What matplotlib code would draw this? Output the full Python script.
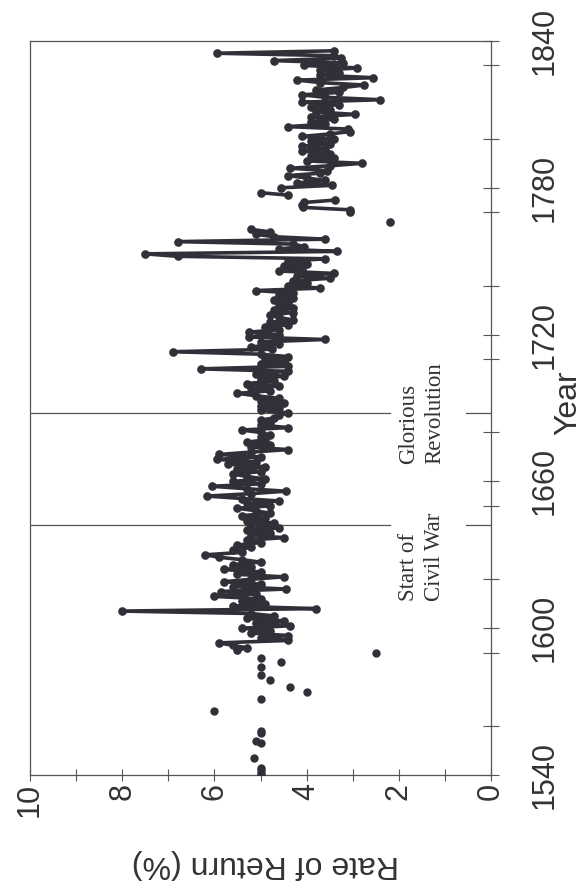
import numpy as np
import matplotlib.pyplot as plt
from matplotlib.ticker import MultipleLocator

nan = np.nan

# isolated early observations (markers only)
early_years = [1540, 1541, 1542, 1543, 1547, 1553, 1554, 1557, 1558, 1566,
               1571, 1574, 1576, 1579, 1581, 1584, 1586, 1588, 1590]
early_rates = [5.0, 5.0, 5.0, 5.0, 5.15, 5.0, 5.1, 5.0, 5.0, 6.0,
               5.0, 4.0, 4.35, 4.8, 5.0, 5.0, 4.55, 5.0, 2.5]

# yearly series 1591-1836, nan = no observation
main_start = 1591
main_rates = (
    [5.5, 5.3, 5.6, 5.9, 4.4, 5.0, 4.4, 5.2, 4.8, 5.4] +        # 1591-1600
    [4.35, 5.1, 4.5, 5.3, 4.7, 5.2, 8.0, 3.8, 5.6, 4.9] +       # 1601-1610
    [5.4, 5.0, 6.0, 5.1, 5.85, 4.45, 5.6, 5.0, 5.8, 5.2] +      # 1611-1620
    [4.5, 5.5, 5.0, 5.8, 5.2, 5.6, 5.0, 5.4, 5.9, 6.2] +        # 1621-1630
    [5.4, 5.6, 5.2, 5.5, 5.0, 5.3, 4.5, 5.2, 4.8, 5.3] +        # 1631-1640
    [4.6, 5.2, 4.7, 5.3, 4.9, 5.4, 4.8, 5.1, 5.5, 4.8] +        # 1641-1650
    [5.3, 4.6, 5.4, 6.15, 5.2, 4.45, 5.3, 6.05, 5.0, 5.6] +     # 1651-1660
    [4.9, 5.3, 5.6, 5.0, 5.5, 4.9, 5.7, 5.1, 5.95, 5.0] +       # 1661-1670
    [5.9, 5.2, 4.4, 5.2, 4.8, 5.3, 4.9, 5.0, 4.8, 5.0] +        # 1671-1680
    [5.4, 4.4, 5.0, 4.8, 5.0, 4.7, 4.6, 4.4, 5.0, 4.6] +        # 1681-1690
    [5.0, 4.5, 5.0, 4.6, 5.1, 5.5, 4.8, 5.2, 4.6, 5.3] +        # 1691-1700
    [4.7, 5.0, 4.5, 5.1, 4.4, 6.3, 4.4, 5.0, 4.5, 4.9] +        # 1701-1710
    [4.4, 5.0, 6.9, 4.75, 5.2, 4.6, 5.0, 3.6, 5.25, 4.6] +      # 1711-1720
    [5.25, 4.6, 4.9, 4.4, 4.8, 4.3, 4.6, 4.8, 4.3, 4.7] +       # 1721-1730
    [4.3, 4.6, 4.4, 4.7, 4.3, 4.6, 4.3, 5.1, 3.7, 4.4] +        # 1731-1740
    [4.0, 4.3, 3.5, 4.2, 3.4, 4.6, 4.1, 4.5, 4.0, 4.4] +        # 1741-1750
    [3.6, 6.8, 7.5, 3.35, 4.6, 4.05, 4.3, 6.8, 3.6, 4.7] +      # 1751-1760
    [5.1, 4.8, 5.2, nan, nan, 2.2, nan, nan, nan, 3.05] +       # 1761-1770
    [3.05, 4.08, 4.1, 4.05, 3.38, nan, 4.4, 5.0, nan, 4.55] +   # 1771-1780
    [3.45, 4.2, 3.6, 4.0, 4.4, 3.7, 3.55, 4.35, 3.5, 2.8] +     # 1781-1790
    [4.0, 3.4, 3.9, 3.5, 4.1, 3.6, 4.1, 3.5, 3.9, 3.4] +        # 1791-1800
    [4.1, 3.5, 3.05, 3.1, 4.4, 3.6, 3.9, 3.4, 3.9, 2.95] +      # 1801-1810
    [3.8, 3.5, 3.9, 3.3, 4.1, 2.4, 3.6, 4.1, 3.3, 3.8] +        # 1811-1820
    [3.2, 2.75, 3.7, 4.2, 2.55, 3.7, 3.3, 3.7, 2.9, 4.05] +     # 1821-1830
    [3.2, 4.7, 3.25, 3.4, 5.95, 3.4]                            # 1831-1836
)
main_years = np.arange(main_start, main_start + len(main_rates))

events = [1642, 1688]
event_labels = ["Start of\nCivil War", "Glorious\nRevolution"]
event_text_years = [1611, 1667]

rate_ticks = [0, 2, 4, 6, 8, 10]
year_ticks = [1540, 1600, 1660, 1720, 1780, 1840]

ink = '#303038'
W, H = 588, 892

fig = plt.figure(figsize=(W / 100, H / 100), dpi=100)
fig.patch.set_facecolor('white')
ax = fig.add_axes([30 / W, 1 - 775 / H, 461 / W, 734 / H])

ax.plot(main_rates, main_years, '-o', color=ink, lw=2.6, ms=5.2, zorder=3)
ax.plot(early_rates, early_years, 'o', color=ink, ms=5.0, zorder=3)

for ev, lab, ty in zip(events, event_labels, event_text_years):
    ax.plot([10, 2.2], [ev, ev], color='#555555', lw=0.9)
    ax.plot([0.55, 0], [ev, ev], color='#555555', lw=0.9)
    ax.text(2.02, ty, lab, rotation=90, ha='left', va='bottom',
            fontsize=16.5, family='Liberation Serif', color='#333333',
            linespacing=1.35, multialignment='left')

ax.set_xlim(10, 0)
ax.set_ylim(1540, 1840)
ax.set_xticks(rate_ticks)
ax.xaxis.set_minor_locator(MultipleLocator(1))
ax.set_yticks(year_ticks)
ax.yaxis.set_minor_locator(MultipleLocator(30))
ax.yaxis.tick_right()

for s in ax.spines.values():
    s.set_color('#555555')
    s.set_linewidth(0.9)

ax.tick_params(axis='x', which='both', direction='inout', length=8, width=0.8,
               color='#555555', labelsize=22, labelrotation=90, pad=2,
               labelcolor='#333333')
ax.tick_params(axis='y', which='both', direction='inout', length=11, width=0.8,
               color='#555555', labelsize=22, labelrotation=90, pad=22,
               labelcolor='#333333')
for t in ax.get_yticklabels():
    t.set_va('center')
for t in ax.get_xticklabels() + ax.get_yticklabels():
    t.set_family('Liberation Sans')

fig.text(265 / W, 1 - 864 / H, "Rate of Return (%)", rotation=180,
         ha='center', va='center', fontsize=23, family='Liberation Sans',
         color='#333333')
fig.text(568 / W, 1 - 403 / H, "Year", rotation=90, ha='center', va='center',
         fontsize=23, family='Liberation Sans', color='#333333')

fig.savefig('out.png', dpi=100, facecolor='white')
